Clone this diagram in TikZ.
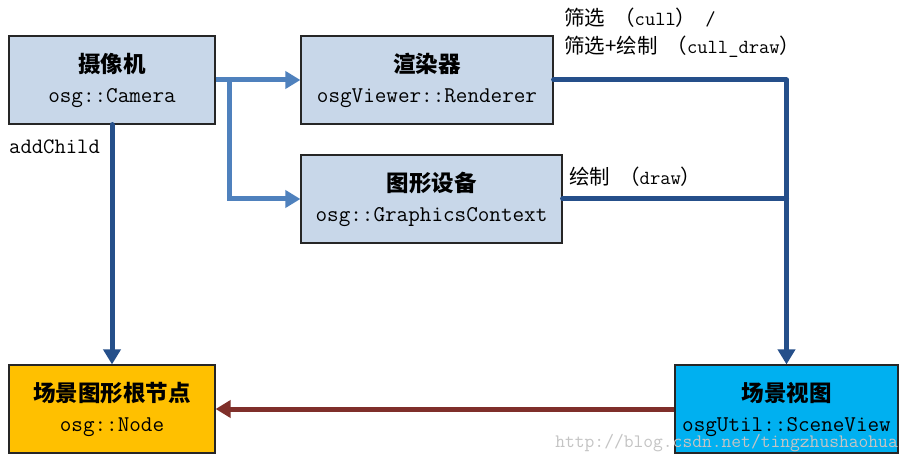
\documentclass[tikz,border=0pt]{standalone}
\usepackage{fontspec}
\setmainfont{Latin Modern Mono}
\newfontfamily\cjk{Noto Sans CJK SC}
\usetikzlibrary{arrows.meta}
\definecolor{boxblue}{HTML}{C8D7E9}
\definecolor{lightarr}{HTML}{4F81BD}
\definecolor{darkarr}{HTML}{254F8A}
\definecolor{redarr}{HTML}{7F2F2A}
\definecolor{nodeyellow}{HTML}{FFC000}
\definecolor{svblue}{HTML}{00B0F0}
\definecolor{wmgray}{HTML}{C4C4C4}
\newcommand{\ttl}[1]{{\cjk\bfseries\fontsize{22.5}{30}\selectfont #1}}
\newcommand{\zh}[1]{{\cjk\fontsize{20.5}{29}\selectfont #1}}
\newcommand{\lpar}{\kern9pt\zh{（}}
\newcommand{\rpar}{\zh{）}\kern9pt}
\tikzset{
  box/.style={draw=black!85, line width=1.2pt, inner sep=0pt, align=center,
    font=\fontsize{22.5}{30}\selectfont},
  lightline/.style={draw=lightarr, line width=5pt},
  darkline/.style={draw=darkarr, line width=5pt, line cap=round, line join=round},
  redline/.style={draw=redarr, line width=5pt},
  tip/.style={-{Triangle[length=15pt,width=17pt]}},
  lbl/.style={anchor=west, inner sep=0pt, font=\fontsize{20}{29}\selectfont},
}
\begin{document}
\begin{tikzpicture}[x=1pt,y=-1pt]
\useasboundingbox[fill=white] (0,0) rectangle (908,465);
\node[box, fill=boxblue, minimum width=206pt, minimum height=88pt] (cam) at (112,80)
  {\ttl{摄像机}\\osg::Camera};
\node[box, fill=boxblue, minimum width=252pt, minimum height=88pt] (ren) at (427,80)
  {\ttl{渲染器}\\osgViewer::Renderer};
\node[box, fill=boxblue, minimum width=261pt, minimum height=88pt] (gc) at (431.5,199)
  {\ttl{图形设备}\\osg::GraphicsContext};
\node[box, fill=nodeyellow, minimum width=206pt, minimum height=88pt] (nd) at (112,409)
  {\ttl{场景图形根节点}\\osg::Node};
\node[box, fill=svblue, minimum width=223pt, minimum height=88pt] (sv) at (786.5,409)
  {\ttl{场景视图}\\osgUtil::SceneView};
% connectors
\draw[lightline, tip] (cam.east) -- (ren.west);
\coordinate (br) at ([xshift=14pt]cam.east);
\draw[lightline, tip] (br) |- (gc.west);
\draw[darkline, tip] (cam.south) -- (nd.north);
\draw[darkline, tip] (ren.east) -| (sv.north);
\coordinate (jn) at (sv.north |- gc.east);
\draw[darkline] (gc.east) -- (jn);
\draw[redline, tip] (sv.west) -- (nd.east);
% labels
\node[lbl] (l1) at (564,18) {\zh{筛选}\lpar cull\rpar/};
\node[lbl] (l2) at (564,47) {\zh{筛选+绘制}\lpar cull\_draw\zh{）}};
\node[lbl] (l3) at (569,177) {\zh{绘制}\lpar draw\zh{）}};
\node[lbl, font=\fontsize{22}{29}\selectfont] (l4) at (9,147) {addChild};
\node[anchor=east, inner sep=0pt, text=wmgray, font=\fontsize{19}{20}\selectfont] (wm) at (898,443) {http://blog.csdn.net/tingzhushaohua};
\end{tikzpicture}
\end{document}
